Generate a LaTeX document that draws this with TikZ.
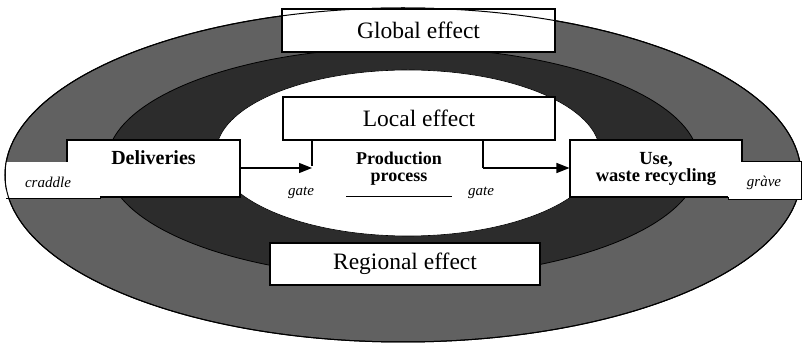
\documentclass[tikz,border=0pt]{standalone}
\usepackage{fontspec}
\setmainfont{Liberation Serif}
\usetikzlibrary{arrows.meta}
\definecolor{outerband}{HTML}{616161}
\definecolor{middleband}{HTML}{2C2C2C}
\begin{document}
\begin{tikzpicture}[x=1pt,y=-1pt,
  effbox/.style={draw=black, line width=1.1pt, fill=white, minimum width=#1,
    minimum height=43pt, inner sep=0pt, font=\fontsize{23.5}{26}\selectfont},
  stagebox/.style={draw=black, line width=1.1pt, fill=white, minimum width=173pt,
    minimum height=57pt, inner sep=0pt, align=center,
    font=\bfseries\fontsize{18.5}{17}\selectfont},
  edge/.style={line width=1pt},
  lbl/.style={inner sep=0pt, font=\itshape\fontsize{15}{17}\selectfont},
  flow/.style={line width=1.4pt, -{Triangle[length=13pt,width=10pt]}},
  tie/.style={line width=1.4pt}
]
\useasboundingbox (0,0) rectangle (806,344);

% rings
\path[fill=outerband, draw=black, line width=1pt] (403,175) ellipse [x radius=398pt, y radius=167pt];
\path[fill=middleband, draw=black, line width=0.8pt] (403,162.5) ellipse [x radius=296pt, y radius=115pt];
\path[fill=white, draw=black, line width=0.6pt] (408,153) ellipse [x radius=192pt, y radius=83pt];

% effect boxes
\node[effbox=273pt] (global) at (418.5,30.5) {Global effect};
\node[effbox=272pt] (local) at (419,118.5) {Local effect};
\node[effbox=270pt, minimum height=42pt] (regional) at (405,264) {Regional effect};

% stage boxes
\node[stagebox, font=\bfseries\fontsize{20}{17}\selectfont, text height=14pt, text depth=21pt] (deliv) at (153.5,168.5) {Deliveries};
\node[stagebox, minimum width=172pt] (use) at (656,168.5) {Use,\\waste recycling};
\node[inner sep=0pt, align=center, font=\bfseries\fontsize{18}{17}\selectfont] (prod) at (399,169) {Production\\process};

% cradle end (in front of Deliveries)
\path[fill=white] (6,162) rectangle (100,199);
\draw[edge] (6,199) -- (100,199) -- (100,197);
\draw[line width=1pt] (403,175) ellipse [x radius=398pt, y radius=167pt];
% grave end (in front of Use)
\path[fill=white] (728,162) rectangle (801,200);
\draw[edge] (742,162) -- (801,162) -- (801,200) -- (728,200) -- (728,197);

\node[lbl] (craddle) at (48,182) {craddle};
\node[lbl] (grave) at (764,183) {gràve};

% gates
\coordinate (g1) at (312,168);
\coordinate (g2) at (483,168);
\draw[tie] (local.south -| g1) -- ([yshift=2pt]g1);
\draw[flow] (deliv.east |- g1) -- (g1);
\draw[tie] (local.south -| g2) -- (g2);
\draw[flow] (g2) -- (use.west |- g2);

\node[lbl] (gate1) at (301,193) {gate};
\node[lbl] (gate2) at (481,193) {gate};

\coordinate (ul1) at (346,197);
\coordinate (ul2) at (452,197);
\draw[line width=1pt] (ul1) -- (ul2);
\end{tikzpicture}
\end{document}
